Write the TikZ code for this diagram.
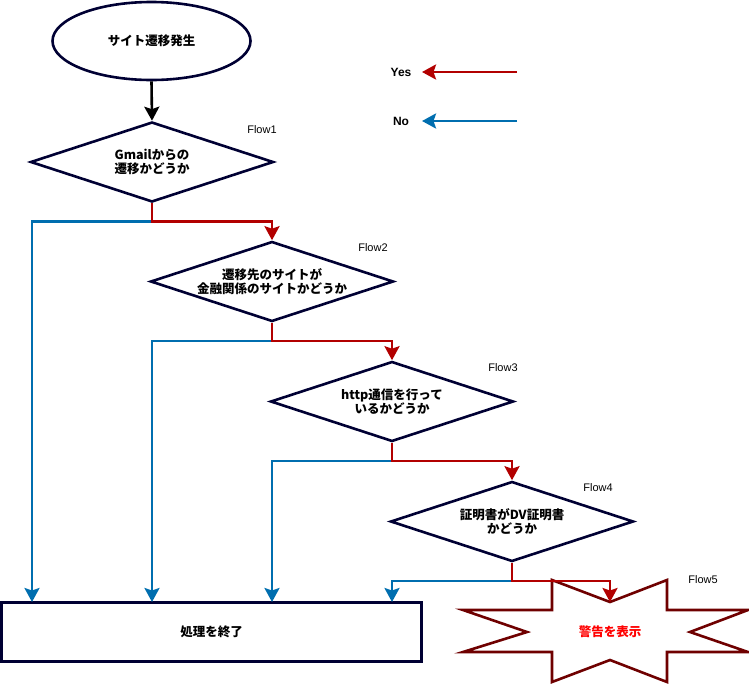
\documentclass[tikz,border=0pt]{standalone}
\usepackage{fontspec}
\setmainfont{Liberation Sans}
\newfontfamily\jp{Noto Sans CJK JP}
\usetikzlibrary{shapes.geometric,arrows.meta}
\definecolor{yesred}{HTML}{B20000}
\definecolor{noblue}{HTML}{006EAF}
\definecolor{navy}{HTML}{000033}
\definecolor{starred}{HTML}{6F0000}
\definecolor{warnred}{HTML}{FF0000}
\begin{document}
\begin{tikzpicture}[x=1pt,y=-1pt,
  tip/.style={-{Stealth[length=14pt,width=15pt,inset=2.5pt]}},
  dia/.style={diamond, draw=navy, line width=2.6pt, fill=white, minimum width=243pt, minimum height=80pt, inner sep=0pt},
  jtxt/.style={font=\jp\bfseries\fontsize{12.5}{14.5}\selectfont, align=center},
  flowlbl/.style={font=\fontsize{11}{13}\selectfont, inner sep=1pt},
  leglbl/.style={font=\bfseries\fontsize{12}{14}\selectfont},
  yesline/.style={draw=yesred, line width=2.6pt, tip},
  noline/.style={draw=noblue, line width=2.6pt, tip},
  blkline/.style={draw=black, line width=2.6pt, tip},
  starline/.style={draw=starred, line width=2.6pt, fill=white, line join=miter}
]
\useasboundingbox (0,0) rectangle (749,683);

% start ellipse
\node[ellipse, draw=navy, line width=2.6pt, fill=white, minimum width=198pt, minimum height=78pt, jtxt] (start) at (151.5,41) {サイト遷移発生};

% diamonds
\node[dia] (d1) at (152,162) {};
\node[jtxt] (t1) at (d1) {Gmailからの\\遷移かどうか};
\node[dia] (d2) at (272,281.5) {};
\node[jtxt] (t2) at (d2) {遷移先のサイトが\\金融関係のサイトかどうか};
\node[dia] (d3) at (392,401.5) {};
\node[jtxt] (t3) at (d3) {http通信を行って\\いるかどうか};
\node[dia] (d4) at (512,521.5) {};
\node[jtxt] (t4) at (d4) {証明書がDV証明書\\かどうか};

% flow labels
\node[flowlbl] (f1) at (262,130) {Flow1};
\node[flowlbl] (f2) at (373,248) {Flow2};
\node[flowlbl] (f3) at (503,368) {Flow3};
\node[flowlbl] (f4) at (598,488) {Flow4};
\node[flowlbl] (f5) at (703,580) {Flow5};

% end box
\node[draw=navy, line width=3pt, fill=white, minimum width=420pt, minimum height=59pt, inner sep=0pt, jtxt] (endbox) at (211.5,631.5) {処理を終了};
\coordinate (e1) at (32,602);
\coordinate (e2) at (152,602);
\coordinate (e3) at (272,602);
\coordinate (e4) at (392,602);

% star
\draw[starline] (463,610) -- (552,610) -- (552,580) -- (610,602) -- (667,580) -- (667,610)
  -- (748,610) -- (690,632) -- (748,652) -- (667,652) -- (667,682) -- (610,660)
  -- (552,682) -- (552,652) -- (463,652) -- (527,632) -- cycle;
\node[font=\jp\bfseries\fontsize{12.5}{14.5}\selectfont, text=warnred] (warn) at (610,632) {警告を表示};
\coordinate (startop) at (610,602);

% legend
\node[leglbl] (yes) at (401,72) {Yes};
\node[leglbl] (no) at (401,121) {No};
\coordinate (yesfrom) at (517,72);
\coordinate (yesto) at (422,72);
\coordinate (nofrom) at (517,121);
\coordinate (noto) at (422,121);
\draw[yesline] (yesfrom) -- (yesto);
\draw[noline] (nofrom) -- (noto);

% connectors
\draw[blkline] (start.south) -- (d1.north);

\draw[noline] (d1.south) -- ++(0,18) -| (e1);
\draw[yesline] (d1.south) -- ++(0,18) -| (d2.north);

\draw[noline] (d2.south) -- ++(0,18) -| (e2);
\draw[yesline] (d2.south) -- ++(0,18) -| (d3.north);

\draw[noline] (d3.south) -- ++(0,18) -| (e3);
\draw[yesline] (d3.south) -- ++(0,18) -| (d4.north);

\draw[noline] (d4.south) -- ++(0,18) -| (e4);
\draw[yesline] (d4.south) -- ++(0,18) -| (startop);
\end{tikzpicture}
\end{document}
